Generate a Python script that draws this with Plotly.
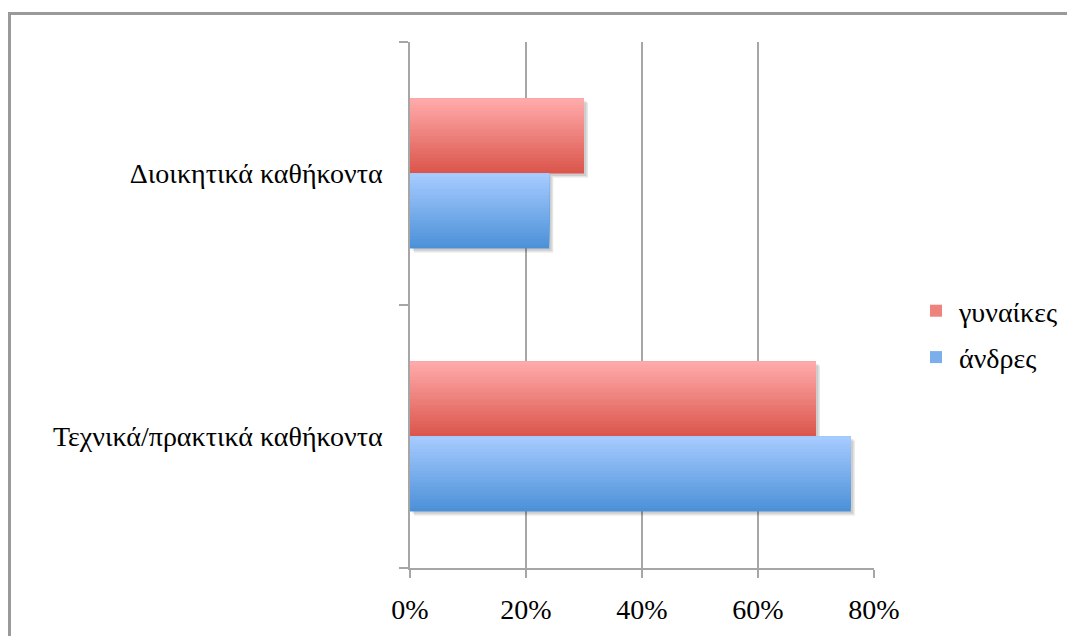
import plotly.graph_objects as go

categories = ["Τεχνικά/πρακτικά καθήκοντα", "Διοικητικά καθήκοντα"]
series_names = ["γυναίκες", "άνδρες"]
gynaikes = [0.70, 0.30]
andres = [0.76, 0.24]
x_ticks = [0, 0.2, 0.4, 0.6, 0.8]
x_labels = ["0%", "20%", "40%", "60%", "80%"]

FONT = "Liberation Serif"
FS = 28
N = 24
BAR_W = 0.285

# page has an 8px body margin; keep the figure inside the window to avoid overflow
W, H = 1059, 628
L, T, PW, PH = 402, 34, 464, 526

def lerp(c1, c2, t):
    return "rgb(%d,%d,%d)" % tuple(round(a + (b - a) * t) for a, b in zip(c1, c2))

fig = go.Figure()

specs = [
    (series_names[0], gynaikes, (255, 170, 170), (219, 86, 76), 0.0),
    (series_names[1], andres, (166, 203, 255), (76, 145, 216), -BAR_W),
]

# soft drop shadows (derived from the same values)
dx = 4 / PW * 0.8
dy = 4 / PH * 2.0
for name, vals, top_c, bot_c, off0 in specs:
    for k, a in [(1.0, 0.10), (0.6, 0.10)]:
        fig.add_trace(go.Bar(
            x=vals, y=categories, orientation="h", base=dx * k,
            offset=off0 - dy * k, width=BAR_W,
            marker=dict(color="rgba(0,0,0,%.2f)" % a, line=dict(width=0)),
            showlegend=False, hoverinfo="skip",
        ))

for name, vals, top_c, bot_c, off0 in specs:
    for i in range(N):
        t = i / (N - 1)
        start = off0 + BAR_W * i / N
        width = off0 + BAR_W - start
        fig.add_trace(go.Bar(
            x=vals, y=categories, orientation="h",
            offset=start, width=width,
            marker=dict(color=lerp(bot_c, top_c, t), line=dict(width=0)),
            name=name, legendgroup=name,
            showlegend=(i == N // 2),
            hoverinfo="x+name",
        ))

# empty helper subplot whose axis lines form the outer frame (top + left)
fig.add_trace(go.Scatter(x=[], y=[], xaxis="x2", yaxis="y2",
                         showlegend=False, hoverinfo="skip"))

frame_col = "#9a9a9a"
grid_col = "#a6a6a6"
fig.update_layout(
    width=W, height=H,
    margin=dict(l=0, r=0, t=0, b=0, autoexpand=False),
    paper_bgcolor="white", plot_bgcolor="rgba(0,0,0,0)",
    barmode="overlay",
    font=dict(family=FONT, size=FS, color="black"),
    showlegend=True,
    legend=dict(x=905 / W, xanchor="left", y=1 - 326 / H, yanchor="middle",
                traceorder="grouped", tracegroupgap=7, itemwidth=36,
                font=dict(family=FONT, size=FS), bgcolor="rgba(0,0,0,0)"),
    xaxis=dict(domain=[L / W, (L + PW) / W], anchor="y",
               range=[0, 0.8], tickvals=x_ticks, ticktext=x_labels,
               showgrid=True, gridcolor=grid_col, gridwidth=1.5,
               showline=True, linecolor=grid_col, linewidth=1.5,
               ticks="outside", ticklen=8, tickcolor=grid_col, tickwidth=1.5,
               ticklabelstandoff=8, zeroline=False, fixedrange=True),
    yaxis=dict(domain=[(H - T - PH) / H, (H - T) / H], anchor="x",
               categoryorder="array", categoryarray=categories,
               range=[-0.5, 1.5],
               showgrid=False, showline=True, linecolor=grid_col, linewidth=1.5,
               ticks="outside", ticklen=9, tickcolor=grid_col, tickwidth=1.5,
               tickson="boundaries", ticklabelstandoff=20, fixedrange=True),
    xaxis2=dict(domain=[0, 1], anchor="free", position=1 - 4.75 / H, side="top",
                range=[0, 1], showline=True, linecolor=frame_col, linewidth=2.5,
                showgrid=False, zeroline=False, showticklabels=False, ticks="",
                fixedrange=True),
    yaxis2=dict(domain=[0, 1 - 3.5 / H], anchor="free", position=1.25 / W,
                range=[0, 1], showline=True, linecolor=frame_col, linewidth=2.5,
                showgrid=False, zeroline=False, showticklabels=False, ticks="",
                fixedrange=True),
)

fig.write_html("out.html")
